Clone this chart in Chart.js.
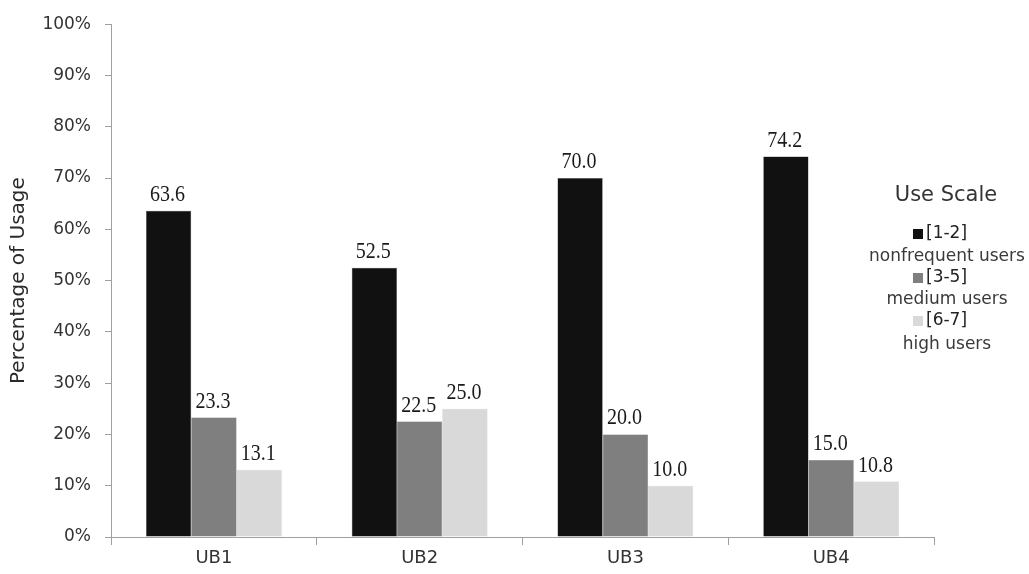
<!DOCTYPE html>
<html><head><meta charset="utf-8">
<script src="https://cdn.jsdelivr.net/npm/chart.js@4/dist/chart.umd.min.js"></script>
<style>html,body{margin:0;padding:0;background:#fff;}#wrap{width:1029px;height:574px;position:relative;}</style>
</head><body><div id="wrap"><canvas id="c" width="1029" height="574"></canvas></div>
<script>
const categories = ['UB1','UB2','UB3','UB4'];
const nonfrequent = [63.6, 52.5, 70.0, 74.2];
const medium = [23.3, 22.5, 20.0, 15.0];
const high = [13.1, 25.0, 10.0, 10.8];
const seriesLabels = ['[1-2]','[3-5]','[6-7]'];
const seriesSub = ['nonfrequent users','medium users','high users'];
const legendTitle = 'Use Scale';
const yTicks = [0,10,20,30,40,50,60,70,80,90,100];

const colors = ['#111111','#7f7f7f','#d9d9d9'];
const sans = 'DejaVu Sans';

const valueLabels = {
  id:'valueLabels',
  afterDatasetsDraw(chart){
    const ctx = chart.ctx;
    ctx.save();
    ctx.font = '20px "Liberation Serif"';
    ctx.fillStyle = '#1a1a1a';
    ctx.textAlign = 'center';
    ctx.textBaseline = 'alphabetic';
    chart.data.datasets.forEach((ds,di)=>{
      const meta = chart.getDatasetMeta(di);
      meta.data.forEach((bar,i)=>{
        const bx = bar.x - 1, by = bar.y - 10;
        ctx.save();
        ctx.translate(bx, by);
        ctx.scale(1, 1.2);
        ctx.fillText(ds.data[i].toFixed(1), 0, 0);
        ctx.restore();
      });
    });
    ctx.restore();
  }
};

const customLegend = {
  id:'customLegend',
  afterDraw(chart){
    const ctx = chart.ctx;
    ctx.save();
    ctx.textBaseline = 'middle';
    ctx.textAlign = 'center';
    ctx.fillStyle = '#333';
    ctx.font = '21px "' + sans + '"';
    ctx.fillText(legendTitle, 946, 196);
    const ys = [234, 278, 321];
    const subYs = [257, 300, 345];
    chart.data.datasets.forEach((ds,i)=>{
      ctx.fillStyle = ds.backgroundColor;
      ctx.fillRect(913, ys[i]-5, 10, 10);
      ctx.font = '17px "' + sans + '"';
      ctx.textAlign = 'left';
      ctx.fillStyle = '#222';
      ctx.fillText(seriesLabels[i], 926, ys[i]);
      ctx.textAlign = 'center';
      ctx.fillStyle = '#3a3a3a';
      ctx.fillText(seriesSub[i], 947, subYs[i]);
    });
    ctx.restore();
  }
};

new Chart(document.getElementById('c'), {
  type:'bar',
  data:{
    labels: categories,
    datasets:[
      {label: seriesLabels[0], data: nonfrequent, backgroundColor: colors[0], borderColor:'#555', borderWidth:0.5},
      {label: seriesLabels[1], data: medium, backgroundColor: colors[1], borderColor:'#666', borderWidth:0.5},
      {label: seriesLabels[2], data: high, backgroundColor: colors[2], borderColor:'#ccc', borderWidth:0.5}
    ]
  },
  options:{
    responsive:false,
    animation:false,
    devicePixelRatio:1,
    layout:{padding:{left:0, right:95, top:22, bottom:0}},
    plugins:{legend:{display:false}, tooltip:{enabled:false}},
    datasets:{bar:{categoryPercentage:0.66, barPercentage:1.0}},
    scales:{
      x:{
        grid:{drawOnChartArea:false, offset:true, tickLength:8, color:'#a0a0a0'},
        border:{color:'#a0a0a0', width:1},
        ticks:{color:'#333', font:{family:sans, size:18}, padding:3},
        afterFit(s){ s.height = 37; }
      },
      y:{
        min:0, max:100,
        afterBuildTicks(s){ s.ticks = yTicks.map(v=>({value:v})); },
        grid:{drawOnChartArea:false, tickLength:6, color:'#a0a0a0'},
        border:{color:'#a0a0a0', width:1},
        ticks:{color:'#333', font:{family:sans, size:17}, padding:14, callback:v=>v+'%'},
        title:{display:true, text:'Percentage of Usage', color:'#2a2a2a', font:{family:sans, size:20}, padding:{top:7,bottom:0}},
        afterFit(s){ s.width = 111; }
      }
    }
  },
  plugins:[valueLabels, customLegend]
});
</script></body></html>
